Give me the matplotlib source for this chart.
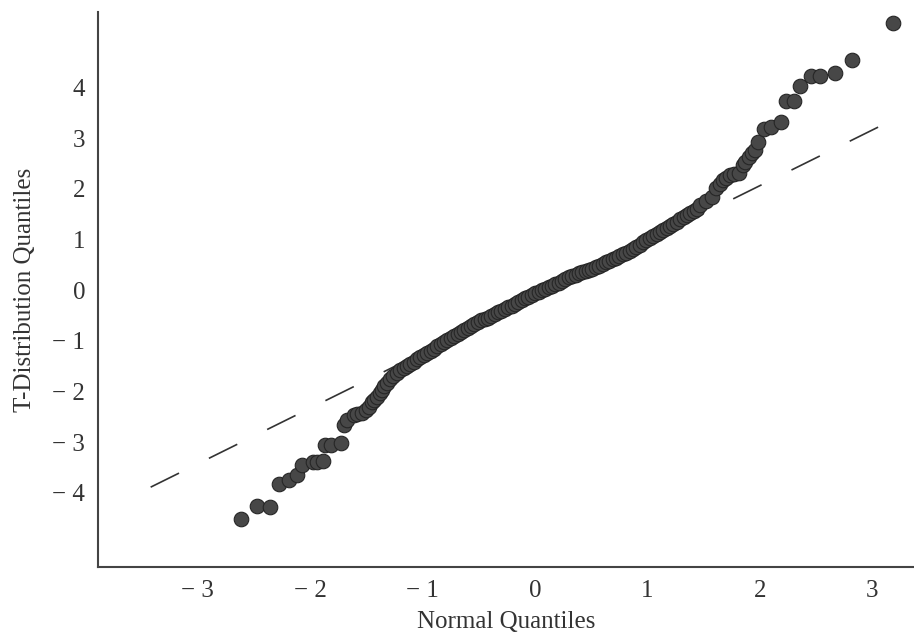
import matplotlib.pyplot as plt

# Q-Q plot: normal quantiles (x) vs t-distribution sample quantiles (y)
lower_x = [-2.62, -2.47, -2.36, -2.28, -2.19, -2.12, -2.07, -1.98, -1.94, -1.89,
           -1.87, -1.82, -1.73, -1.70, -1.67, -1.61, -1.58, -1.54, -1.50, -1.48,
           -1.45, -1.43, -1.41, -1.38, -1.36, -1.34, -1.32]
lower_y = [-4.51, -4.26, -4.28, -3.82, -3.75, -3.64, -3.46, -3.39, -3.39, -3.38,
           -3.05, -3.06, -3.02, -2.67, -2.57, -2.47, -2.45, -2.42, -2.37, -2.30,
           -2.21, -2.16, -2.11, -2.04, -1.98, -1.90, -1.84]

mid_x = [-1.29, -1.26, -1.23, -1.20, -1.17, -1.14, -1.11, -1.08, -1.05, -1.02,
         -0.99, -0.96, -0.93, -0.90, -0.87, -0.84, -0.81, -0.78, -0.75, -0.72,
         -0.69, -0.66, -0.63, -0.60, -0.57, -0.54, -0.51, -0.48, -0.45, -0.42,
         -0.39, -0.36, -0.33, -0.30, -0.27, -0.24, -0.21, -0.18, -0.15, -0.12,
         -0.09, -0.06, -0.03, 0.00, 0.03, 0.06, 0.09, 0.12, 0.15, 0.18,
         0.21, 0.24, 0.27, 0.30, 0.33, 0.36, 0.39, 0.42, 0.45, 0.48,
         0.51, 0.54, 0.57, 0.60, 0.63, 0.66, 0.69, 0.72, 0.75, 0.78,
         0.81, 0.84, 0.87, 0.90, 0.93, 0.96, 0.99, 1.02, 1.05, 1.08,
         1.11, 1.14, 1.17, 1.20, 1.23, 1.26, 1.29, 1.32, 1.35, 1.38,
         1.41, 1.44]
mid_y = [-1.75, -1.69, -1.64, -1.58, -1.54, -1.49, -1.45, -1.41, -1.36, -1.32,
         -1.28, -1.24, -1.20, -1.16, -1.11, -1.07, -1.03, -0.99, -0.95, -0.90,
         -0.86, -0.82, -0.78, -0.74, -0.70, -0.66, -0.62, -0.59, -0.56, -0.54,
         -0.51, -0.48, -0.44, -0.41, -0.38, -0.34, -0.31, -0.27, -0.24, -0.20,
         -0.16, -0.13, -0.10, -0.06, -0.03, 0.00, 0.03, 0.06, 0.09, 0.12,
         0.15, 0.19, 0.22, 0.25, 0.28, 0.30, 0.33, 0.35, 0.37, 0.40,
         0.42, 0.45, 0.48, 0.52, 0.55, 0.58, 0.61, 0.64, 0.68, 0.71,
         0.74, 0.78, 0.82, 0.86, 0.90, 0.95, 0.99, 1.03, 1.07, 1.11,
         1.15, 1.18, 1.22, 1.26, 1.31, 1.35, 1.40, 1.44, 1.48, 1.52,
         1.56, 1.60]

upper_x = [1.47, 1.52, 1.57, 1.61, 1.64, 1.67, 1.70, 1.73, 1.77, 1.81,
           1.85, 1.87, 1.90, 1.93, 1.96, 1.98, 2.04, 2.10, 2.19, 2.23,
           2.30, 2.36, 2.45, 2.53, 2.67, 2.82, 3.18]
upper_y = [1.68, 1.76, 1.84, 2.01, 2.10, 2.17, 2.22, 2.27, 2.29, 2.31,
           2.47, 2.54, 2.63, 2.70, 2.77, 2.93, 3.18, 3.22, 3.33, 3.74,
           3.74, 4.03, 4.23, 4.23, 4.28, 4.55, 5.27]

# reference line end points
line_x = [-3.42, 3.07]
line_y = [-3.89, 3.24]

x_ticks = [-3, -2, -1, 0, 1, 2, 3]
y_ticks = [-4, -3, -2, -1, 0, 1, 2, 3, 4]

plt.rcParams['font.family'] = ['Liberation Serif', 'DejaVu Serif']

fig = plt.figure(figsize=(9.14, 6.38), dpi=100)
ax = fig.add_axes([0.107, 0.111, 0.893, 0.870])

ax.plot(line_x, line_y, color='#333333', linewidth=1.2, dashes=(19, 20), zorder=1)

qx = lower_x + mid_x + upper_x
qy = lower_y + mid_y + upper_y
ax.scatter(qx, qy, s=110, color='#474747', edgecolors='#262626', linewidths=0.8, zorder=2)

ax.set_xlim(-3.89, 3.37)
ax.set_ylim(-5.47, 5.49)

def fmt(v):
    return f"\u2212 {abs(v)}" if v < 0 else str(v)

ax.set_xticks(x_ticks)
ax.set_xticklabels([fmt(v) for v in x_ticks])
ax.set_yticks(y_ticks)
ax.set_yticklabels([fmt(v) for v in y_ticks])
ax.tick_params(length=0, labelsize=18, colors='#333333', pad=9)

for side in ['top', 'right']:
    ax.spines[side].set_visible(False)
for side in ['left', 'bottom']:
    ax.spines[side].set_color('#444444')
    ax.spines[side].set_linewidth(1.5)

ax.set_xlabel("Normal Quantiles", fontsize=18, color='#333333', labelpad=7)
ax.set_ylabel("T-Distribution Quantiles", fontsize=18, color='#333333', labelpad=12)

fig.savefig("out.png", dpi=100)
